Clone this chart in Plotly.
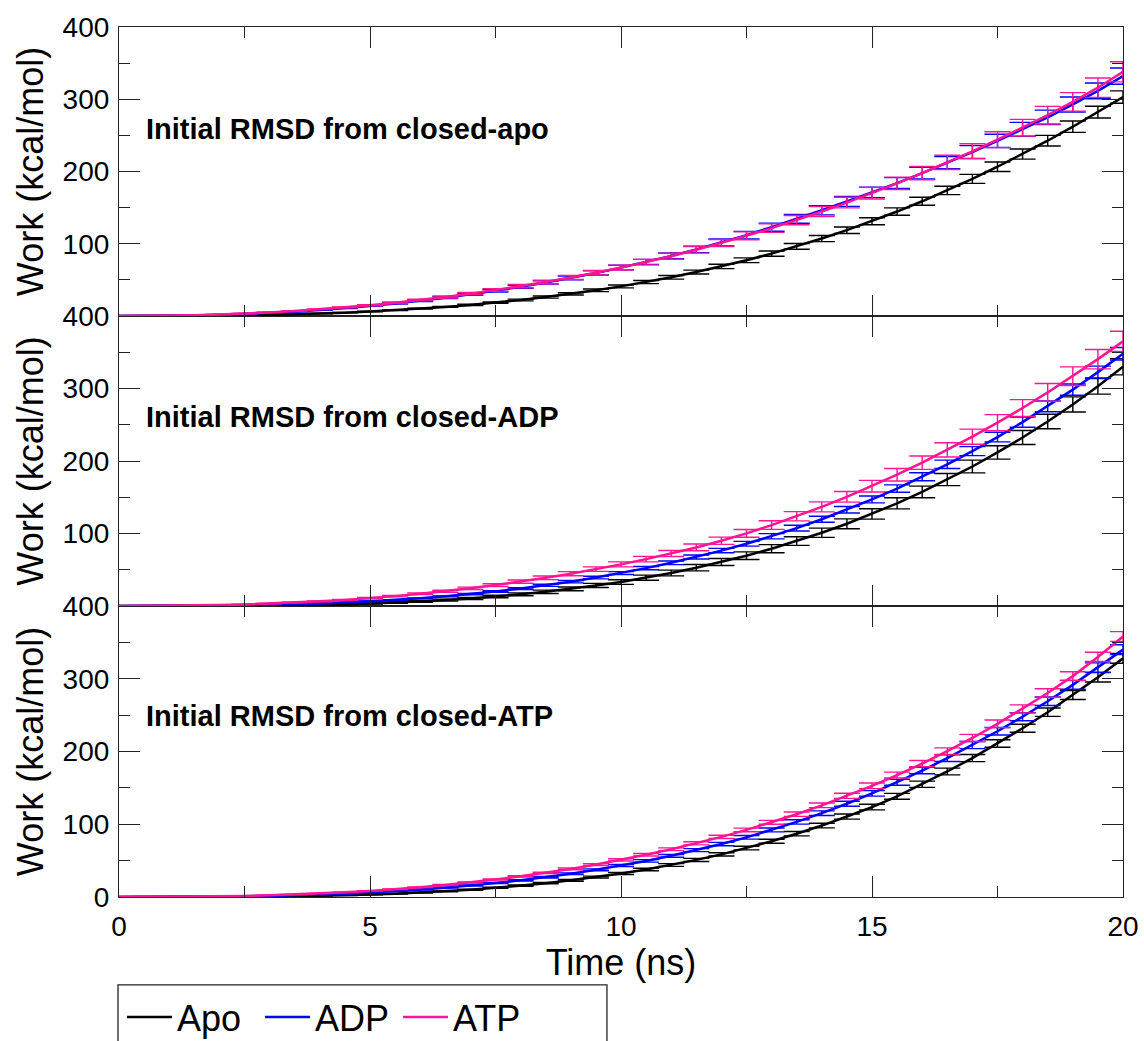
import plotly.graph_objects as go

FONT = "Liberation Sans, Arial, Helvetica, sans-serif"

# Time grid (ns)
time_ns = [0, 0.5, 1, 1.5, 2, 2.5, 3, 3.5, 4, 4.5, 5, 5.5, 6, 6.5, 7, 7.5, 8, 8.5, 9, 9.5,
           10, 10.5, 11, 11.5, 12, 12.5, 13, 13.5, 14, 14.5, 15, 15.5, 16, 16.5, 17, 17.5,
           18, 18.5, 19, 19.5, 20]

# Panel 1: Initial RMSD from closed-apo
apo_p1 = [0, 0, 0.1, 0.3, 0.6, 1.0, 1.6, 2.4, 3.4, 4.6, 6.2, 8.0, 10.1, 12.6, 15.4, 18.6, 22.2, 26.2,
          30.6, 35.6, 41.0, 47.0, 53.6, 60.8, 68.6, 77.2, 86.4, 96.4, 107.2, 118.8, 131.2, 144.6,
          158.8, 173.8, 189.8, 206.6, 224.2, 242.6, 262.0, 282.2, 303.0]
adp_p1 = [0, 0.1, 0.3, 0.8, 1.6, 2.8, 4.4, 6.2, 8.4, 11.0, 14.0, 17.4, 21.2, 25.4, 30.0, 35.0, 40.4,
          46.4, 52.8, 59.6, 67.0, 74.8, 83.2, 92.2, 101.8, 112.0, 123.0, 134.4, 146.4, 158.6, 171.0,
          184.0, 197.8, 212.2, 227.0, 242.4, 258.4, 275.0, 292.8, 311.6, 332.0]
atp_p1 = [0, 0.1, 0.4, 1.0, 2.0, 3.3, 5.0, 7.0, 9.4, 12.0, 15.0, 18.4, 22.2, 26.4, 31.0, 36.0, 41.4,
          47.2, 53.4, 60.0, 67.0, 74.6, 82.8, 91.6, 101.0, 111.0, 121.6, 132.8, 144.6, 157.0, 170.0,
          183.6, 197.8, 212.6, 228.0, 244.0, 260.6, 278.0, 296.4, 316.0, 338.0]
apo_p1_err = [0, 0, 0, 0, 0, 0.1, 0.1, 0.2, 0.2, 0.3, 0.4, 0.5, 0.6, 0.7, 0.9, 1.0, 1.2, 1.4, 1.6, 1.8,
              2.0, 2.2, 2.5, 2.7, 3.0, 3.3, 3.6, 3.9, 4.2, 4.5, 4.8, 5.1, 5.5, 5.8, 6.2, 6.6, 7.0, 7.4,
              7.8, 8.2, 8.6]
adp_p1_err = [0, 0, 0, 0.1, 0.1, 0.2, 0.3, 0.4, 0.5, 0.6, 0.7, 0.9, 1.1, 1.3, 1.5, 1.7, 2.0, 2.3, 2.6,
              2.9, 3.2, 3.6, 4.0, 4.4, 4.8, 5.2, 5.6, 6.0, 6.4, 6.8, 7.2, 7.6, 8.0, 8.4, 8.8, 9.2, 9.6,
              10.0, 10.4, 10.8, 11.2]
atp_p1_err = [0, 0, 0, 0.1, 0.1, 0.2, 0.3, 0.4, 0.5, 0.6, 0.8, 1.0, 1.2, 1.4, 1.6, 1.9, 2.2, 2.5, 2.8,
              3.1, 3.4, 3.8, 4.2, 4.6, 5.0, 5.4, 5.9, 6.4, 6.9, 7.4, 8.0, 8.6, 9.2, 9.8, 10.4, 11.0,
              11.6, 12.2, 12.8, 13.4, 14.0]

# Panel 2: Initial RMSD from closed-ADP
apo_p2 = [0, 0, 0, 0.1, 0.2, 0.4, 0.7, 1.1, 1.7, 2.4, 3.4, 4.7, 6.2, 8.1, 10.3, 13.0, 16.1, 19.6, 23.6,
          28.3, 33.0, 39.0, 45.5, 52.8, 60.6, 69.4, 79.0, 89.6, 101.0, 113.4, 127.0, 141.6, 157.4,
          174.4, 192.4, 211.8, 232.4, 254.4, 278.0, 303.0, 330.0]
adp_p2 = [0, 0, 0.1, 0.3, 0.6, 1.0, 1.6, 2.4, 3.5, 4.8, 6.4, 8.3, 10.6, 13.3, 16.4, 20.0, 24.0, 28.5,
          33.5, 39.2, 45.4, 52.2, 59.6, 67.6, 76.4, 85.8, 96.2, 107.4, 119.6, 132.8, 147.0, 162.0,
          178.2, 195.4, 213.6, 233.0, 253.6, 275.4, 298.4, 322.6, 348.0]
atp_p2 = [0, 0.1, 0.3, 0.7, 1.3, 2.2, 3.3, 4.7, 6.4, 8.4, 10.8, 13.6, 16.8, 20.4, 24.4, 28.8, 33.6,
          38.8, 44.6, 50.8, 57.4, 64.6, 72.4, 80.8, 90.0, 100.2, 111.6, 123.8, 136.7, 150.6, 165.3,
          181.1, 197.7, 215.3, 233.5, 252.9, 273.1, 294.6, 317.0, 340.5, 365.0]
apo_p2_err = [0, 0, 0, 0.1, 0.1, 0.2, 0.3, 0.4, 0.5, 0.6, 0.7, 0.9, 1.1, 1.3, 1.5, 1.7, 2.0, 2.3, 2.6,
              2.9, 3.2, 3.6, 4.0, 4.4, 4.8, 5.2, 5.6, 6.0, 6.4, 6.8, 7.2, 7.6, 8.0, 8.4, 8.8, 9.2, 9.6,
              10.0, 10.4, 10.8, 11.2]
adp_p2_err = [0, 0, 0, 0, 0, 0.1, 0.1, 0.2, 0.2, 0.3, 0.4, 0.5, 0.6, 0.7, 0.9, 1.0, 1.2, 1.4, 1.6, 1.8,
              2.0, 2.2, 2.5, 2.7, 3.0, 3.3, 3.6, 3.9, 4.2, 4.5, 4.8, 5.1, 5.5, 5.8, 6.2, 6.6, 7.0, 7.4,
              7.8, 8.2, 8.6]
atp_p2_err = [0, 0, 0, 0.1, 0.1, 0.2, 0.3, 0.4, 0.5, 0.6, 0.8, 1.0, 1.2, 1.4, 1.6, 1.9, 2.2, 2.5, 2.8,
              3.1, 3.4, 3.8, 4.2, 4.6, 5.0, 5.4, 5.9, 6.4, 6.9, 7.4, 8.0, 8.6, 9.2, 9.8, 10.4, 11.0,
              11.6, 12.2, 12.8, 13.4, 14.0]

# Panel 3: Initial RMSD from closed-ATP
apo_p3 = [0, 0, 0, 0.1, 0.2, 0.4, 0.7, 1.1, 1.6, 2.3, 3.3, 4.5, 6.0, 7.8, 10.0, 12.6, 15.6, 19.0, 22.9,
          27.4, 32.2, 37.8, 44.0, 51.0, 58.6, 67.2, 76.6, 87.0, 98.2, 110.6, 123.6, 138.4, 155.0,
          172.5, 191.0, 211.0, 232.0, 254.0, 277.5, 302.0, 328.0]
adp_p3 = [0, 0, 0.1, 0.3, 0.6, 1.0, 1.6, 2.4, 3.4, 4.7, 6.2, 8.0, 10.2, 12.8, 15.8, 19.2, 23.0, 27.2,
          32.0, 37.4, 43.2, 49.6, 56.6, 64.4, 72.8, 82.0, 92.2, 103.2, 115.2, 128.2, 142.4, 157.6,
          173.8, 190.8, 208.8, 227.8, 247.8, 269.0, 291.6, 315.4, 340.0]
atp_p3 = [0, 0.1, 0.2, 0.5, 0.9, 1.5, 2.3, 3.4, 4.8, 6.4, 8.4, 10.7, 13.4, 16.5, 20.0, 24.0, 28.4,
          33.2, 38.6, 44.6, 51.0, 58.0, 65.6, 73.8, 82.6, 92.2, 102.6, 113.8, 126.0, 139.0, 152.8,
          167.6, 183.4, 200.4, 218.6, 238.0, 258.6, 280.4, 303.6, 330.0, 358.0]
err_p3 = [0, 0, 0, 0, 0, 0.1, 0.1, 0.2, 0.2, 0.3, 0.3, 0.4, 0.5, 0.6, 0.7, 0.8, 0.9, 1.0, 1.2, 1.3,
          1.5, 1.7, 1.9, 2.1, 2.3, 2.5, 2.7, 3.0, 3.2, 3.5, 3.8, 4.0, 4.3, 4.6, 4.9, 5.2, 5.5, 5.8,
          6.1, 6.4, 6.7]

series_names = ["Apo", "ADP", "ATP"]
series_colors = ["#000000", "#0000ff", "#ff1493"]

panel_titles = ["Initial RMSD from closed-apo", "Initial RMSD from closed-ADP",
                "Initial RMSD from closed-ATP"]
panel_data = [
    [(apo_p1, apo_p1_err), (adp_p1, adp_p1_err), (atp_p1, atp_p1_err)],
    [(apo_p2, apo_p2_err), (adp_p2, adp_p2_err), (atp_p2, atp_p2_err)],
    [(apo_p3, err_p3), (adp_p3, err_p3), (atp_p3, err_p3)],
]

y_ticks = [0, 100, 200, 300, 400]
x_ticks = [0, 5, 10, 15, 20]

# axis ids: top panel -> x3/y3, middle -> x2/y2, bottom -> x/y
axis_ids = ["3", "2", ""]
domains = [[0.6678, 1.0], [0.3345, 0.6678], [0.0, 0.3345]]

fig = go.Figure()

for p, (title, data) in enumerate(zip(panel_titles, panel_data)):
    aid = axis_ids[p]
    for s, (vals, errs) in enumerate(data):
        fig.add_trace(go.Scatter(
            x=time_ns, y=vals, mode="lines",
            name=series_names[s],
            line=dict(color=series_colors[s], width=2.5),
            error_y=dict(type="data", array=errs, visible=True,
                         color=series_colors[s], thickness=1.4, width=13),
            xaxis="x" + aid, yaxis="y" + aid,
            showlegend=(p == 2),
        ))

axis_common = dict(
    showline=True, linecolor="#222222", linewidth=1.2, mirror="allticks",
    ticks="inside", tickwidth=1.3, tickcolor="#222222", ticklen=21,
    showgrid=False, zeroline=False, automargin=False,
    tickfont=dict(family=FONT, size=28, color="black"),
)

layout = dict(
    width=1144, height=1041,
    paper_bgcolor="white", plot_bgcolor="white",
    margin=dict(l=119, r=21, t=27, b=144, autoexpand=False),
    font=dict(family=FONT, color="black"),
    showlegend=True,
    legend=dict(orientation="h", x=0.003, xanchor="left", y=-0.138, yanchor="middle",
                font=dict(family=FONT, size=36, color="black"),
                bgcolor="rgba(0,0,0,0)", borderwidth=0, itemwidth=45,
                entrywidth=78, entrywidthmode="pixels", tracegroupgap=0),
)

for p in range(3):
    aid = axis_ids[p]
    xkey = "xaxis" + aid
    ykey = "yaxis" + aid
    xa = dict(axis_common)
    xa.update(range=[0, 20], tickmode="array", tickvals=x_ticks,
              minor=dict(tickmode="array", tickvals=[2.5, 7.5, 12.5, 17.5], ticks="inside",
                         ticklen=11, tickwidth=1.3, tickcolor="#222222"),
              anchor="y" + aid)
    if p < 2:
        xa.update(showticklabels=False, matches="x")
    else:
        xa.update(ticktext=[str(v) for v in x_ticks], ticklabelstandoff=4,
                  title=dict(text="Time (ns)", font=dict(family=FONT, size=36, color="black"),
                             standoff=4))
    ya = dict(axis_common)
    ya.update(range=[0, 400], domain=domains[p], anchor="x" + aid,
              tickmode="array", tickvals=y_ticks,
              ticktext=[("" if (v == 0 and p < 2) else str(v)) for v in y_ticks],
              minor=dict(tickmode="array", tickvals=[50, 150, 250, 350], ticks="inside",
                         ticklen=11, tickwidth=1.3, tickcolor="#222222"),
              ticklabelstandoff=3,
              title=dict(text="Work (kcal/mol)", font=dict(family=FONT, size=36, color="black"),
                         standoff=7))
    layout[xkey] = xa
    layout[ykey] = ya

fig.update_layout(**layout)

annot_y = [259, 261, 249]
for p in range(3):
    aid = axis_ids[p]
    fig.add_annotation(x=0.5, y=annot_y[p], xref="x" + aid, yref="y" + aid,
                       text="<b>" + panel_titles[p] + "</b>", showarrow=False,
                       xanchor="left", yanchor="middle",
                       font=dict(family=FONT, size=29, color="black"))

# legend frame (extends past the bottom edge like the reference)
fig.add_shape(type="rect", xref="paper", yref="paper",
              x0=-0.001, x1=0.486, y0=-0.1011, y1=-0.2,
              line=dict(color="#222222", width=1.3), fillcolor="rgba(0,0,0,0)")

fig.write_html("out.html", config={"displayModeBar": False},
               post_script="document.body.style.margin='0';document.body.style.padding='0';")
